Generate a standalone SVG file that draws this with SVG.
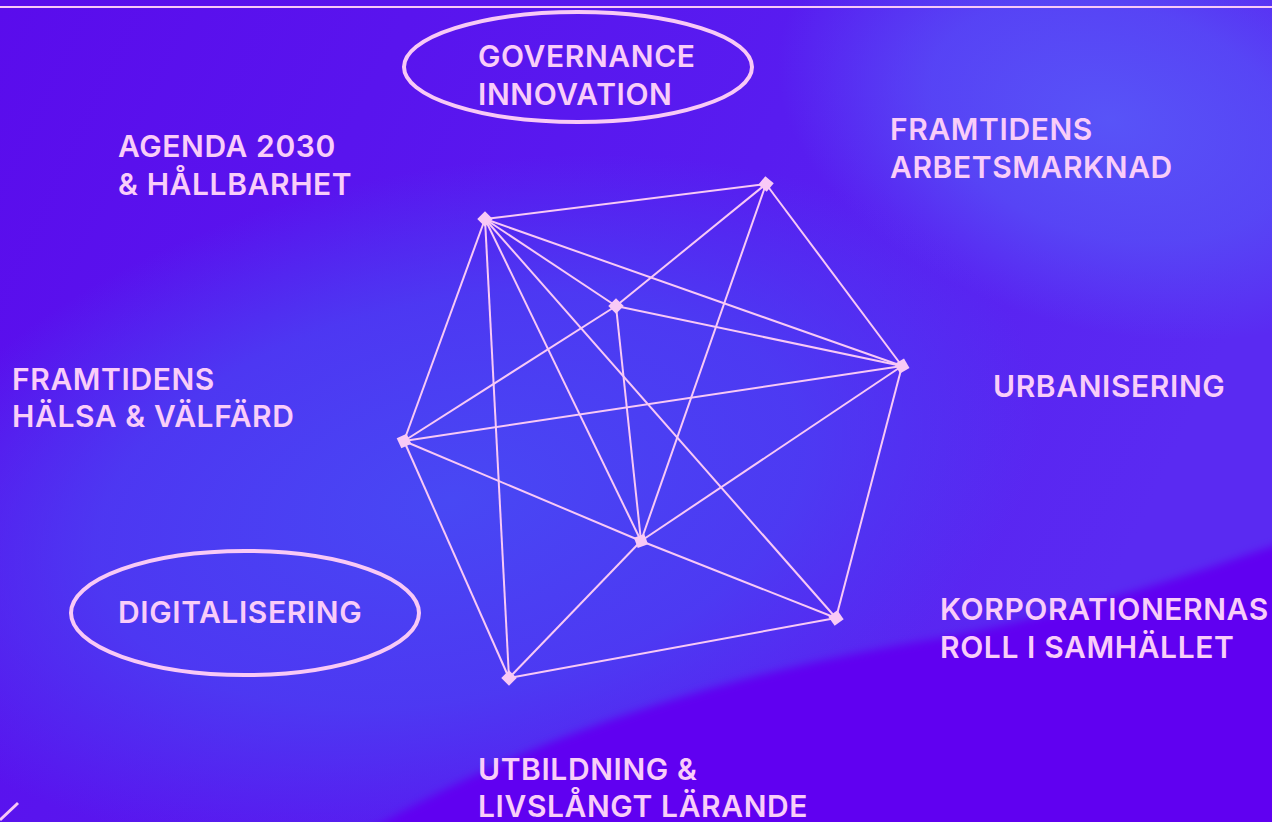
<svg xmlns="http://www.w3.org/2000/svg" width="1272" height="822" viewBox="0 0 1272 822">
  <defs>
    <linearGradient id="bg" x1="0" y1="0" x2="1" y2="0.3">
      <stop offset="0" stop-color="#5a0cec"/>
      <stop offset="0.6" stop-color="#581cf0"/>
      <stop offset="1" stop-color="#5a2af2"/>
    </linearGradient>
    <radialGradient id="glow" cx="0.5" cy="0.5" r="0.5">
      <stop offset="0" stop-color="#4848f4" stop-opacity="1"/>
      <stop offset="0.6" stop-color="#4a40f3" stop-opacity="0.8"/>
      <stop offset="1" stop-color="#4a40f3" stop-opacity="0"/>
    </radialGradient>
    <radialGradient id="glow2" cx="0.5" cy="0.5" r="0.5">
      <stop offset="0" stop-color="#5856f8" stop-opacity="0.95"/>
      <stop offset="0.55" stop-color="#5652f7" stop-opacity="0.7"/>
      <stop offset="1" stop-color="#5652f7" stop-opacity="0"/>
    </radialGradient>
    <filter id="soft" x="-20%" y="-20%" width="140%" height="140%">
      <feGaussianBlur stdDeviation="4"/>
    </filter>
    <style>
      .lbl { font-family: Inter, "Liberation Sans", sans-serif; font-weight: 600; font-size: 30px; letter-spacing: 0.6px; fill: #f9cdf9; }
      .edge { stroke: #f8c9f6; stroke-width: 2; fill: none; }
      .ring { stroke: #f8c9f6; stroke-width: 4; fill: none; }
      .dot { fill: #f8c9f6; }
    </style>
  </defs>

  <!-- background -->
  <rect x="0" y="0" width="1272" height="822" fill="url(#bg)"/>
  <ellipse cx="1110" cy="120" rx="340" ry="210" fill="url(#glow2)" transform="rotate(15 1110 120)"/>
  <ellipse cx="450" cy="500" rx="600" ry="330" fill="url(#glow)" transform="rotate(-12 450 500)"/>
  <path d="M370 830 C 560 720, 760 668, 940 638 C 1080 612, 1190 575, 1290 540 L 1290 840 L 370 840 Z" fill="#6000f1" filter="url(#soft)"/>

  <line x1="0" y1="7" x2="1272" y2="7" stroke="#f8c9f6" stroke-width="2"/>
  <path d="M0 820 L18 803" stroke="#f8c9f6" stroke-width="3" fill="none"/>

  <g id="connectors">
    <line class="edge" x1="485" y1="219" x2="766" y2="184"/>
    <line class="edge" x1="485" y1="219" x2="616" y2="306"/>
    <line class="edge" x1="485" y1="219" x2="902" y2="366"/>
    <line class="edge" x1="485" y1="219" x2="404" y2="441"/>
    <line class="edge" x1="485" y1="219" x2="641" y2="541"/>
    <line class="edge" x1="485" y1="219" x2="836" y2="618"/>
    <line class="edge" x1="485" y1="219" x2="509" y2="678"/>
    <line class="edge" x1="766" y1="184" x2="616" y2="306"/>
    <line class="edge" x1="766" y1="184" x2="902" y2="366"/>
    <line class="edge" x1="766" y1="184" x2="641" y2="541"/>
    <line class="edge" x1="616" y1="306" x2="902" y2="366"/>
    <line class="edge" x1="616" y1="306" x2="404" y2="441"/>
    <line class="edge" x1="616" y1="306" x2="641" y2="541"/>
    <line class="edge" x1="902" y1="366" x2="404" y2="441"/>
    <line class="edge" x1="902" y1="366" x2="641" y2="541"/>
    <line class="edge" x1="902" y1="366" x2="836" y2="618"/>
    <line class="edge" x1="404" y1="441" x2="641" y2="541"/>
    <line class="edge" x1="404" y1="441" x2="509" y2="678"/>
    <line class="edge" x1="641" y1="541" x2="836" y2="618"/>
    <line class="edge" x1="641" y1="541" x2="509" y2="678"/>
    <line class="edge" x1="836" y1="618" x2="509" y2="678"/>
  </g>

  <g id="node-governance">
    <ellipse class="ring" cx="578" cy="67" rx="174" ry="55"/>
    <text class="lbl" x="478" y="67">GOVERNANCE</text>
    <text class="lbl" x="478" y="105">INNOVATION</text>
    <rect class="dot" x="610.5" y="300.5" width="11" height="11" transform="rotate(45 616 306)"/>
  </g>

  <g id="node-agenda">
    <text class="lbl" x="118" y="157">AGENDA 2030</text>
    <text class="lbl" x="118" y="195">&amp; HÅLLBARHET</text>
    <rect class="dot" x="479.5" y="213.5" width="11" height="11" transform="rotate(45 485 219)"/>
  </g>

  <g id="node-arbetsmarknad">
    <text class="lbl" x="890" y="140">FRAMTIDENS</text>
    <text class="lbl" x="890" y="178">ARBETSMARKNAD</text>
    <rect class="dot" x="760.5" y="178.5" width="11" height="11" transform="rotate(40 766 184)"/>
  </g>

  <g id="node-halsa">
    <text class="lbl" x="12" y="390">FRAMTIDENS</text>
    <text class="lbl" x="12" y="427">HÄLSA &amp; VÄLFÄRD</text>
    <rect class="dot" x="398.5" y="435.5" width="11" height="11" transform="rotate(-25 404 441)"/>
  </g>

  <g id="node-urbanisering">
    <text class="lbl" x="993" y="397">URBANISERING</text>
    <rect class="dot" x="896.5" y="360.5" width="11" height="11" transform="rotate(-30 902 366)"/>
  </g>

  <g id="node-digitalisering">
    <ellipse class="ring" cx="245" cy="613" rx="174" ry="62"/>
    <text class="lbl" x="118" y="623">DIGITALISERING</text>
    <rect class="dot" x="635.5" y="535.5" width="11" height="11" transform="rotate(-20 641 541)"/>
  </g>

  <g id="node-korporationernas">
    <text class="lbl" x="940" y="620">KORPORATIONERNAS</text>
    <text class="lbl" x="940" y="658">ROLL I SAMHÄLLET</text>
    <rect class="dot" x="830.5" y="612.5" width="11" height="11" transform="rotate(-35 836 618)"/>
  </g>

  <g id="node-utbildning">
    <text class="lbl" x="478" y="780">UTBILDNING &amp;</text>
    <text class="lbl" x="478" y="817">LIVSLÅNGT LÄRANDE</text>
    <rect class="dot" x="503.5" y="672.5" width="11" height="11" transform="rotate(45 509 678)"/>
  </g>
</svg>
